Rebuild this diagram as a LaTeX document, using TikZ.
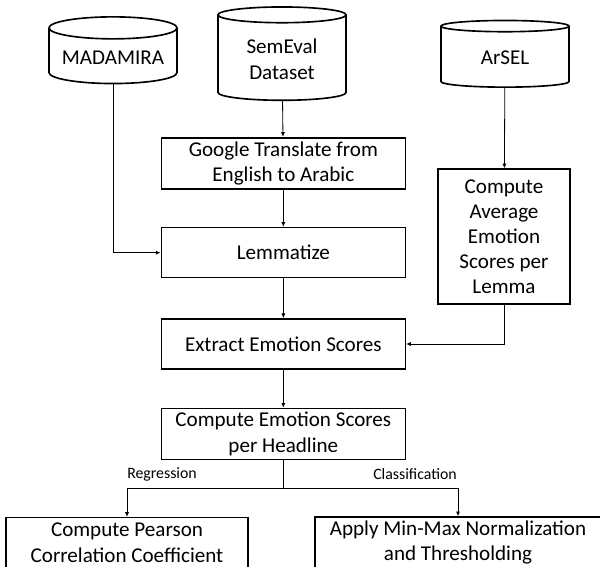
\documentclass[tikz,border=0pt]{standalone}
\usepackage{fontspec}
\setmainfont{Carlito}
\usetikzlibrary{shapes.geometric,arrows.meta}

\begin{document}
\begin{tikzpicture}[
    box/.style={rectangle, draw=black, line width=1.4pt, minimum width=7.32cm, minimum height=1.5cm, align=center, font=\fontsize{18}{21.5}\selectfont},
    dbbox/.style={cylinder, shape border rotate=90, aspect=0.2, draw=black, line width=1.4pt, minimum width=3.84cm, minimum height=2cm, align=center, font=\fontsize{18}{21.5}\selectfont},
    arrow/.style={-{Latex[length=4pt,width=3.5pt]}, line width=0.7pt},
    lbl/.style={font=\fontsize{13.5}{15}\selectfont}
]
\useasboundingbox (0,0) rectangle (18,-17.01);

% Data sources
\node[dbbox] (madamira) at (3.39,-1.74) {MADAMIRA};
\node[dbbox, minimum height=2.8cm] (semeval) at (8.46,-1.78) {SemEval\\Dataset};
\node[dbbox] (arsel) at (15.15,-1.74) {ArSEL};

% Pipeline
\node[box] (google) at (8.5,-4.9) {Google Translate from\\English to Arabic};
\node[box] (lemma) at (8.5,-7.58) {Lemmatize};
\node[box, minimum width=3.96cm, minimum height=4.05cm] (average) at (15.12,-7.1) {Compute\\Average\\Emotion\\Scores per\\Lemma};
\node[box] (extract) at (8.5,-10.32) {Extract Emotion Scores};
\node[box] (headline) at (8.5,-13.02) {Compute Emotion Scores\\per Headline};

% Outputs
\node[box, minimum width=7.26cm] (pearson) at (3.81,-16.28) {Compute Pearson\\Correlation Coefficient};
\node[box, minimum width=8.58cm] (minmax) at (13.74,-16.28) {Apply Min-Max Normalization\\and Thresholding};
\coordinate (split) at (8.5,-14.64);

% Arrows
\draw[arrow] (semeval) -- (google);
\draw[arrow] (google) -- (lemma);
\draw[arrow] (madamira) |- (lemma);
\draw[arrow] (arsel) -- (average);
\draw[arrow] (lemma) -- (extract);
\draw[arrow] (average) |- (extract);
\draw[arrow] (extract) -- (headline);
\draw[line width=0.7pt] (headline) -- (split);
\draw[arrow] (split) -| (pearson);
\draw[arrow] (split) -| (minmax);

% Branch labels
\node[lbl] (reg) at (4.86,-14.22) {Regression};
\node[lbl] (cls) at (12.45,-14.22) {Classification};

\end{tikzpicture}
\end{document}
